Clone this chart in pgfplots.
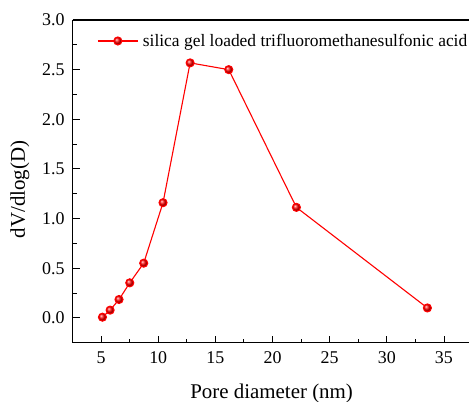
\documentclass[border=0pt]{standalone}
\usepackage{pgfplots}
\pgfplotsset{compat=1.18}
\usepackage{fontspec}
\setmainfont{Liberation Serif}
\begin{document}
\begin{tikzpicture}
\begin{axis}[
  name=ax,
  at={(0,0)}, anchor=south west,
  scale only axis,
  width=396.6bp, height=322.7bp,
  xmin=2.5, xmax=37.2,
  ymin=-0.25, ymax=3.0,
  axis x line*=box, axis y line*=left,
  xtick={5,10,15,20,25,30,35},
  xticklabels={5,10,15,20,25,30,35},
  ytick={0,0.5,1,1.5,2,2.5,3},
  yticklabels={0.0,0.5,1.0,1.5,2.0,2.5,3.0},
  minor x tick num=1, minor y tick num=1,
  xtick pos=lower, ytick pos=left,
  tick align=inside,
  major tick length=7bp, minor tick length=4bp,
  axis line style={line width=1.1bp},
  every tick/.style={line width=0.9bp, black},
  ticklabel style={font=\rmfamily\fontsize{18}{21}\selectfont},
  xticklabel style={yshift=-5.5bp},
  yticklabel style={xshift=-4.5bp},
  xlabel={Pore diameter (nm)},
  ylabel={dV/dlog(D)},
  xlabel style={font=\rmfamily\fontsize{21}{25}\selectfont, at={(rel axis cs:0.502,-0.173)}, anchor=base},
  ylabel style={font=\rmfamily\fontsize{21}{25}\selectfont, at={(rel axis cs:-0.1324,0.475)}, anchor=center},
  legend style={draw=none, fill=none, at={(0.062,0.935)}, anchor=west, inner sep=0pt,
    font=\rmfamily\fontsize{17.5}{21}\selectfont},
  legend cell align=left,
  legend image code/.code={\draw[mark repeat=2,mark phase=2,#1] plot coordinates {(0bp,0bp)(20bp,0bp)(40bp,0bp)};},
  legend style={nodes={inner xsep=4.5bp}},
]
\addplot[red, line width=1.1bp, mark=ball, mark size=4bp, mark options={ball color=red}] coordinates {
(5.12,0.007)
(5.79,0.078)
(6.57,0.185)
(7.51,0.353)
(8.73,0.551)
(10.42,1.16)
(12.79,2.568)
(16.17,2.50)
(22.09,1.113)
(33.55,0.10)
};
\addlegendentry{silica gel loaded trifluoromethanesulfonic acid}
\end{axis}
\pgfresetboundingbox
\path ([xshift=-72.5bp,yshift=-59.3bp]ax.south west) rectangle ++(470bp,402bp);
\end{tikzpicture}
\end{document}
